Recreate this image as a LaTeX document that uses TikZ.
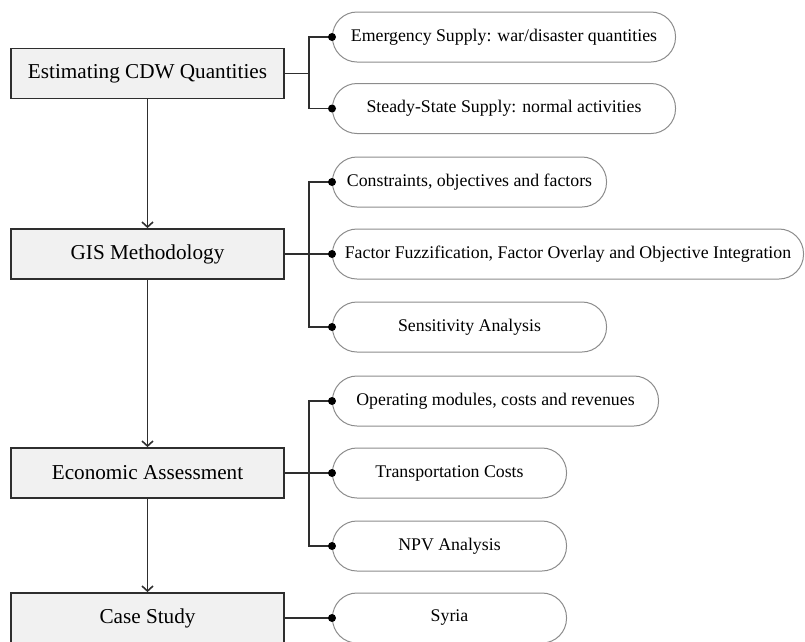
\documentclass[tikz,border=0pt]{standalone}
\usepackage{fontspec}
\setmainfont{Liberation Serif}
\usetikzlibrary{arrows.meta}
\definecolor{boxfill}{HTML}{F1F1F1}
\definecolor{linec}{HTML}{2E2E2E}
\definecolor{pillc}{HTML}{8C8C8C}
\tikzset{
  mainbox/.style={draw=linec, line width=1.8pt, fill=boxfill, minimum width=273pt, minimum height=50pt, inner sep=0pt, font=\fontsize{21.2}{25}\selectfont},
  pill/.style={draw=pillc, line width=1pt, rounded corners=24.5pt, minimum height=50pt, anchor=west, inner sep=0pt, font=\fontsize{17.8}{21}\selectfont},
  conn/.style={draw=linec, line width=1.6pt},
  flow/.style={conn, -{Straight Barb[length=5pt,width=11pt]}},
  dot/.style={fill=black}
}
\begin{document}
\begin{tikzpicture}[x=1pt,y=-1pt]
\clip (0,0) rectangle (805,641);
% main boxes
\node[mainbox] (b1) at (147.5,73.5) {Estimating CDW Quantities};
\node[mainbox] (b2) at (147.5,254) {GIS Methodology};
\node[mainbox] (b3) at (147.5,473) {Economic Assessment};
\node[mainbox] (b4) at (147.5,618) {Case Study};
% pills
\node[pill, minimum width=343pt] (e1) at (332,37) {Emergency Supply: war/disaster quantities};
\node[pill, minimum width=343pt] (e2) at (332,108.5) {Steady-State Supply: normal activities};
\node[pill, minimum width=274pt] (g1) at (332,182) {Constraints, objectives and factors};
\node[pill, minimum width=471pt] (g2) at (332,254) {Factor Fuzzification, Factor Overlay and Objective Integration};
\node[pill, minimum width=274pt] (g3) at (332,327) {Sensitivity Analysis};
\node[pill, minimum width=326pt] (c1) at (332,401) {Operating modules, costs and revenues};
\node[pill, minimum width=234pt] (c2) at (332,473) {Transportation Costs};
\node[pill, minimum width=234pt] (c3) at (332,546) {NPV Analysis};
\node[pill, minimum width=234pt] (s1) at (332,618) {Syria};
% flow arrows
\draw[flow] (b1.south) -- (b2.north);
\draw[flow] (b2.south) -- (b3.north);
\draw[flow] (b3.south) -- (b4.north);
% junctions
\coordinate (j1) at (309,73.5);
\coordinate (j2) at (309,254);
\coordinate (j3) at (309,473);
% branches
\draw[conn] (b1.east) -- (j1);
\draw[conn] (e1.west) -| (j1) |- (e2.west);
\draw[conn] (b2.east) -- (g2.west);
\draw[conn] (g1.west) -| (j2) |- (g3.west);
\draw[conn] (b3.east) -- (c2.west);
\draw[conn] (c1.west) -| (j3) |- (c3.west);
\draw[conn] (b4.east) -- (s1.west);
% dots
\foreach \n in {e1,e2,g1,g2,g3,c1,c2,c3,s1} \fill[dot] (\n.west) circle (4pt);
\end{tikzpicture}
\end{document}
